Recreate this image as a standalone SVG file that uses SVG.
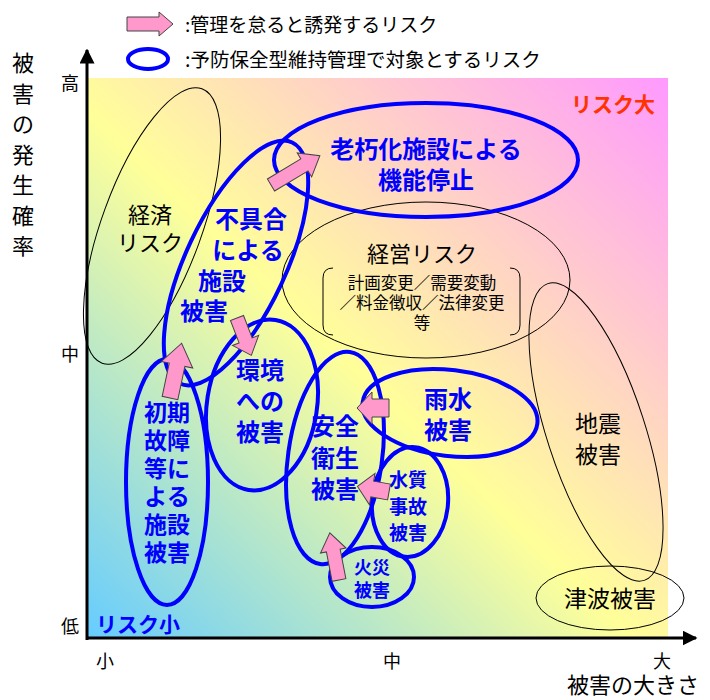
<svg xmlns="http://www.w3.org/2000/svg" width="710" height="700" viewBox="0 0 710 700">
<defs>
<linearGradient id="bg" x1="0" y1="1" x2="1" y2="0">
<stop offset="0" stop-color="#66ccff"/>
<stop offset="0.47" stop-color="#ffff99"/>
<stop offset="1" stop-color="#ff99ff"/>
</linearGradient>
<marker id="ah" viewBox="0 0 10 10" refX="9" refY="5" markerWidth="5" markerHeight="5" orient="auto" markerUnits="strokeWidth">
<path d="M0,0 L10,5 L0,10 Z" fill="#000"/>
</marker>
</defs>
<style>
text{font-family:"Noto Sans CJK JP","Noto Sans CJK SC",sans-serif;dominant-baseline:central;text-anchor:middle}
.lb{fill:#0000ff;font-weight:bold;font-size:24px}
.lk{fill:#000;font-size:22px}
.bl{fill:none;stroke:#0000ff;stroke-width:4}
.bk{fill:none;stroke:#000;stroke-width:1}
.ar{fill:#ff99cc;stroke:#444;stroke-width:1}
.ax{fill:#000;font-size:18px}
.sm{fill:#000;font-size:16.5px}
</style>
<rect x="87" y="78" width="581" height="560" fill="url(#bg)"/>

<g id="legend">
<polygon class="ar" points="0,-7 32,-7 32,-12 46,0 32,12 32,7 0,7" transform="translate(127,24)"/>
<text x="185" y="23" style="text-anchor:start;font-size:19px">:管理を怠ると誘発するリスク</text>
<ellipse class="bl" cx="148" cy="59" rx="20" ry="10"/>
<text x="185" y="58" style="text-anchor:start;font-size:19.5px">:予防保全型維持管理で対象とするリスク</text>
</g>

<g id="axes">
<line x1="87" y1="640" x2="87" y2="50" stroke="#000" stroke-width="3" marker-end="url(#ah)"/>
<line x1="86" y1="638" x2="696" y2="638" stroke="#000" stroke-width="3" marker-end="url(#ah)"/>
<text class="ax" x="70" y="82">高</text>
<text class="ax" x="70" y="353">中</text>
<text class="ax" x="70" y="625">低</text>
<text class="ax" x="105" y="660">小</text>
<text class="ax" x="392" y="660">中</text>
<text class="ax" x="662" y="660">大</text>
<text x="633" y="683" style="font-size:22px">被害の大きさ</text>
<text x="23" y="61" style="font-size:22px"><tspan x="23">被</tspan><tspan x="23" dy="30.5">害</tspan><tspan x="23" dy="30.5">の</tspan><tspan x="23" dy="30.5">発</tspan><tspan x="23" dy="30.5">生</tspan><tspan x="23" dy="30.5">確</tspan><tspan x="23" dy="30.5">率</tspan></text>
<text x="613" y="103" style="fill:#ff3300;font-weight:bold;font-size:21px">リスク大</text>
<text x="138" y="623" style="fill:#0000ff;font-weight:bold;font-size:21px">リスク小</text>
</g>

<g id="keizai">
<ellipse class="bk" cx="152" cy="226" rx="50" ry="146" transform="rotate(20 152 226)"/>
<text class="lk" x="150" y="213">経済</text>
<text class="lk" x="150" y="241">リスク</text>
</g>

<g id="keiei">
<ellipse class="bk" cx="426" cy="280" rx="144" ry="78"/>
<text class="lk" x="422" y="252">経営リスク</text>
<path d="M333,268 Q323,268 323,278 L323,325 Q323,335 333,335 M510,268 Q520,268 520,278 L520,325 Q520,335 510,335" fill="none" stroke="#000" stroke-width="1"/>
<text class="sm" x="422" y="282">計画変更／需要変動</text>
<text class="sm" x="422" y="302">／料金徴収／法律変更</text>
<text class="sm" x="422" y="322">等</text>
</g>

<g id="jishin">
<ellipse class="bk" cx="596" cy="432" rx="49" ry="156" transform="rotate(-18 596 432)"/>
<text class="lk" x="598" y="422" style="font-size:23px">地震</text>
<text class="lk" x="598" y="453" style="font-size:23px">被害</text>
</g>

<g id="tsunami">
<ellipse class="bk" cx="610" cy="598" rx="74" ry="32"/>
<text class="lk" x="610" y="597" style="font-size:23px">津波被害</text>
</g>

<g id="roukyu">
<ellipse class="bl" cx="426" cy="160" rx="152" ry="57"/>
<text class="lb" x="426" y="147">老朽化施設による</text>
<text class="lb" x="426" y="178">機能停止</text>
</g>

<g id="fuguai">
<ellipse class="bl" cx="236" cy="263" rx="50" ry="133" transform="rotate(25 236 263)"/>
<text class="lb" x="251" y="217">不具合</text>
<text class="lb" x="248" y="248">による</text>
<text class="lb" x="222" y="279">施設</text>
<text class="lb" x="204" y="309">被害</text>
</g>

<g id="shoki">
<ellipse class="bl" cx="167" cy="482" rx="41" ry="123"/>
<text class="lb" x="167" y="411" style="font-size:23px">初期</text>
<text class="lb" x="167" y="439" style="font-size:23px">故障</text>
<text class="lb" x="167" y="467" style="font-size:23px">等に</text>
<text class="lb" x="167" y="495" style="font-size:23px">よる</text>
<text class="lb" x="167" y="523" style="font-size:23px">施設</text>
<text class="lb" x="167" y="551" style="font-size:23px">被害</text>
</g>

<g id="kankyo">
<ellipse class="bl" cx="262" cy="405" rx="55" ry="86" transform="rotate(9 262 405)"/>
<text class="lb" x="260" y="368">環境</text>
<text class="lb" x="260" y="399">への</text>
<text class="lb" x="260" y="430">被害</text>
</g>

<g id="anzen">
<ellipse class="bl" cx="335" cy="458" rx="47" ry="107" transform="rotate(8 335 458)"/>
<text class="lb" x="335" y="424">安全</text>
<text class="lb" x="335" y="456">衛生</text>
<text class="lb" x="335" y="487">被害</text>
</g>

<g id="usui">
<ellipse class="bl" cx="450" cy="413" rx="88" ry="43" transform="rotate(7 450 413)"/>
<text class="lb" x="448" y="397">雨水</text>
<text class="lb" x="448" y="428">被害</text>
</g>

<g id="suishitsu">
<ellipse class="bl" cx="410" cy="502" rx="38" ry="55" transform="rotate(5 410 502)"/>
<text class="lb" x="408" y="478" style="font-size:19px">水質</text>
<text class="lb" x="408" y="505" style="font-size:19px">事故</text>
<text class="lb" x="408" y="531" style="font-size:19px">被害</text>
</g>

<g id="kasai">
<ellipse class="bl" cx="372" cy="577" rx="42" ry="30"/>
<text class="lb" x="372" y="566" style="font-size:18px">火災</text>
<text class="lb" x="372" y="589" style="font-size:18px">被害</text>
</g>

<g id="connectors">
<polygon class="ar" points="0,-7 39,-7 39,-14 57,0 39,14 39,7 0,7" transform="translate(271,185) rotate(-31)"/>
<polygon class="ar" points="0,-7 24,-7 24,-14 40,0 24,14 24,7 0,7" transform="translate(237,318) rotate(69)"/>
<polygon class="ar" points="0,-8 34,-8 34,-16 56,0 34,16 34,8 0,8" transform="translate(170,398) rotate(-78)"/>
<polygon class="ar" points="0,-9 17,-9 17,-16 32,0 17,16 17,9 0,9" transform="translate(389,408) rotate(180)"/>
<polygon class="ar" points="0,-8 17,-8 17,-16 32,0 17,16 17,8 0,8" transform="translate(389,492) rotate(190)"/>
<polygon class="ar" points="0,-7 30,-7 30,-13 48,0 30,13 30,7 0,7" transform="translate(339,580) rotate(-101)"/>
</g>
</svg>
